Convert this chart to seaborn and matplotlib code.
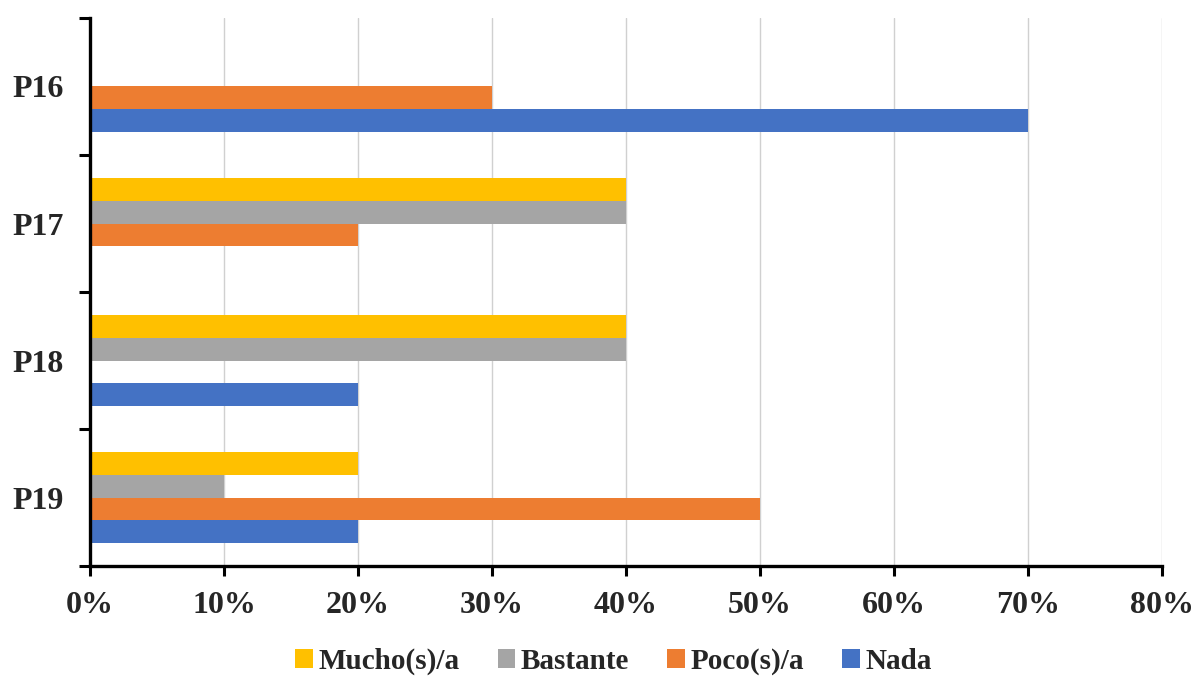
import matplotlib
matplotlib.use("Agg")
import matplotlib.pyplot as plt
import seaborn as sns
import pandas as pd
from matplotlib.patches import Patch
from matplotlib.ticker import FixedLocator, PercentFormatter

# Survey responses per question (percent of respondents)
questions = ["P16", "P17", "P18", "P19"]
levels = ["Mucho(s)/a", "Bastante", "Poco(s)/a", "Nada"]
mucho = [0, 40, 40, 20]
bastante = [0, 40, 40, 10]
poco = [30, 20, 0, 50]
nada = [70, 0, 20, 20]
x_ticks = [0, 10, 20, 30, 40, 50, 60, 70, 80]

colors = ["#FFC000", "#A5A5A5", "#ED7D31", "#4472C4"]

rows = []
for lvl, vals in zip(levels, [mucho, bastante, poco, nada]):
    for q, v in zip(questions, vals):
        rows.append({"Pregunta": q, "Respuesta": lvl, "Porcentaje": v})
df = pd.DataFrame(rows)

sns.set_theme(style="white")
plt.rcParams["font.family"] = ["Liberation Serif", "DejaVu Serif"]
plt.rcParams["font.weight"] = "bold"

fig = plt.figure(figsize=(11.96, 6.79), dpi=100)
ax = fig.add_axes([0.0753, 0.1664, 0.8963, 0.8071])

sns.barplot(data=df, y="Pregunta", x="Porcentaje", hue="Respuesta",
            order=questions, hue_order=levels, palette=colors,
            orient="h", width=0.67, saturation=1, ax=ax, legend=False,
            linewidth=0, errorbar=None)

ax.set_xlim(0, 80)
ax.set_ylim(len(questions) - 0.5, -0.5)
ax.xaxis.set_major_locator(FixedLocator(x_ticks))
ax.xaxis.set_major_formatter(PercentFormatter(decimals=0))
ax.grid(axis="x", color="#d0d0d0", linewidth=1.0)
ax.set_axisbelow(True)

# Group boundaries carry tick marks; labels sit at group centres
ax.yaxis.set_major_locator(FixedLocator([i - 0.5 for i in range(len(questions) + 1)]))
ax.yaxis.set_major_formatter(plt.NullFormatter())
ax.yaxis.set_minor_locator(FixedLocator(range(len(questions))))
ax.set_yticklabels(questions, minor=True)
ax.tick_params(axis="y", which="major", left=True, length=8, width=2.2, color="black")
ax.tick_params(axis="y", which="minor", left=True, length=0, pad=19,
               labelsize=23)
ax.tick_params(axis="x", bottom=True, length=7, width=2.2, color="black",
               labelsize=23, pad=11)
for lab in ax.get_xticklabels() + ax.get_yticklabels(minor=True):
    lab.set_fontweight("bold")

for side in ["top", "right"]:
    ax.spines[side].set_visible(False)
for side in ["left", "bottom"]:
    ax.spines[side].set_color("black")
    ax.spines[side].set_linewidth(2.4)

ax.set_xlabel("")
ax.set_ylabel("")

handles = [Patch(facecolor=c, edgecolor="none") for c in colors]
fig.legend(handles, levels, loc="center", bbox_to_anchor=(0.513, 0.026),
           ncol=4, frameon=False, handlelength=0.6, handleheight=0.6,
           handletextpad=0.2, columnspacing=1.3,
           prop={"family": "Liberation Serif", "weight": "bold", "size": 21})

fig.savefig("out.png", dpi=100)
